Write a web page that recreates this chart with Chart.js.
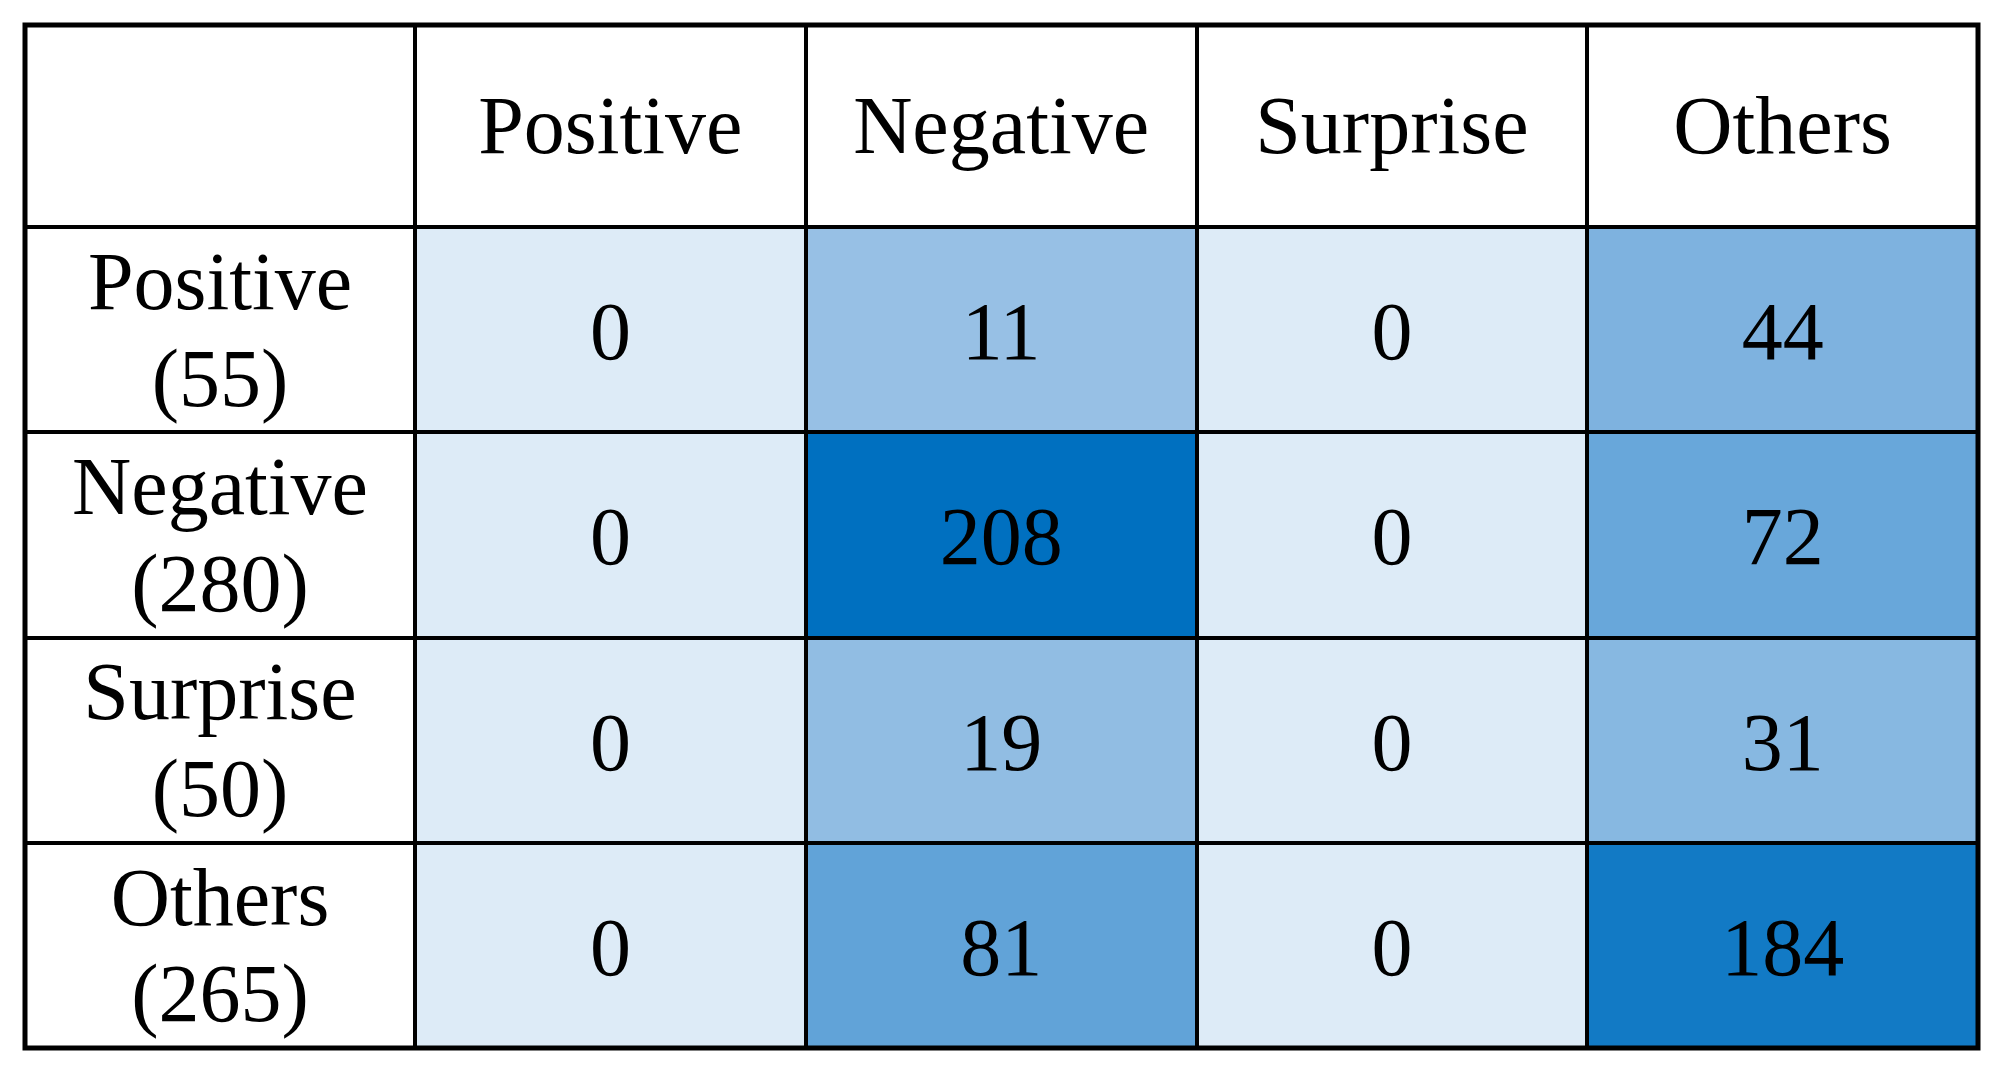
<!DOCTYPE html>
<html>
<head>
<meta charset="utf-8">
<script src="https://cdn.jsdelivr.net/npm/chart.js@4/dist/chart.umd.min.js"></script>
<style>
  html, body { margin: 0; padding: 0; background: #fff; }
  #wrap { width: 2003px; height: 1069px; }
</style>
</head>
<body>
<div id="wrap"><canvas id="cm"></canvas></div>
<script>
// confusion matrix data (rows = true class, columns = predicted)
const colLabels = ['Positive', 'Negative', 'Surprise', 'Others'];
const rowNames = ['Positive', 'Negative', 'Surprise', 'Others'];
const positiveRow = [0, 11, 0, 44];
const negativeRow = [0, 208, 0, 72];
const surpriseRow = [0, 19, 0, 31];
const othersRow = [0, 81, 0, 184];
const matrixRows = [positiveRow, negativeRow, surpriseRow, othersRow];

// row labels with totals, e.g. ['Positive', '(55)']
const rowLabels = rowNames.map((n, i) => [n, '(' + matrixRows[i].reduce((a, b) => a + b, 0) + ')']);

// 3 colour scale: min -> median -> max
const lowColor = [221, 235, 247];
const midColor = [155, 194, 230];
const highColor = [0, 112, 192];
const allVals = matrixRows.flat().slice().sort((a, b) => a - b);
const vMin = allVals[0];
const vMax = allVals[allVals.length - 1];
const vMid = (allVals[allVals.length / 2 - 1] + allVals[allVals.length / 2]) / 2;

function mix(a, b, t) {
  return 'rgb(' + a.map((c, i) => Math.round(c + (b[i] - c) * t)).join(',') + ')';
}
function cellColor(v) {
  if (v <= vMid) return mix(lowColor, midColor, (v - vMin) / (vMid - vMin));
  return mix(midColor, highColor, (v - vMid) / (vMax - vMid));
}

const FONT = 'Liberation Serif, Times New Roman, serif';
const HEADER_H = 202;
const LABEL_W = 390;
const LINE_W = 4;

// one dataset per row, each cell a floating bar [r, r+1]
const datasets = matrixRows.map((row, r) => ({
  label: rowNames[r],
  data: row.map((v, c) => ({ x: colLabels[c], y: [r, r + 1], v: v })),
  backgroundColor: ctx => cellColor(ctx.raw.v),
  borderWidth: 0,
  grouped: false,
  barPercentage: 1,
  categoryPercentage: 1
}));

// numbers in the cells
const cellText = {
  id: 'cellText',
  afterDatasetsDraw(chart) {
    const ctx = chart.ctx;
    ctx.save();
    ctx.font = '82px ' + FONT;
    ctx.fillStyle = '#000';
    ctx.textAlign = 'center';
    ctx.textBaseline = 'middle';
    chart.data.datasets.forEach((ds, i) => {
      chart.getDatasetMeta(i).data.forEach((el, j) => {
        const p = el.getProps(['x', 'y', 'base'], true);
        ctx.fillText(String(ds.data[j].v), p.x, (p.y + p.base) / 2 + 8);
      });
    });
    ctx.restore();
  }
};

// outer frame round the whole table (header + label column)
const tableFrame = {
  id: 'tableFrame',
  afterDraw(chart) {
    const xs = chart.scales.x, ys = chart.scales.rows;
    const ctx = chart.ctx;
    ctx.save();
    ctx.strokeStyle = '#000';
    ctx.lineWidth = LINE_W + 1;
    ctx.strokeRect(ys.left, xs.top, chart.chartArea.right - ys.left, chart.chartArea.bottom - xs.top);
    ctx.restore();
  }
};

new Chart(document.getElementById('cm'), {
  type: 'bar',
  data: { labels: colLabels, datasets: datasets },
  plugins: [cellText, tableFrame],
  options: {
    responsive: true,
    maintainAspectRatio: false,
    devicePixelRatio: 1,
    animation: false,
    layout: { padding: { left: 25, top: 25, right: 25, bottom: 21 } },
    plugins: { legend: { display: false }, tooltip: { enabled: false } },
    scales: {
      x: {
        type: 'category',
        position: 'top',
        offset: true,
        grid: { offset: true, z: 1, color: '#000', lineWidth: LINE_W, tickLength: HEADER_H, drawTicks: true },
        border: { display: false },
        ticks: { color: '#000', font: { family: FONT, size: 82, lineHeight: 1.18 }, padding: -155, maxRotation: 0, autoSkip: false },
        afterFit(s) { s.height = HEADER_H; }
      },
      y: {
        type: 'linear',
        display: false,
        reverse: true,
        min: 0,
        max: 4
      },
      rows: {
        type: 'category',
        position: 'left',
        labels: rowLabels,
        offset: true,
        grid: { offset: true, z: 1, color: '#000', lineWidth: LINE_W, tickLength: LABEL_W, drawTicks: true },
        border: { display: false },
        ticks: { color: '#000', crossAlign: 'center', font: { family: FONT, size: 82, lineHeight: 1.18 }, padding: -343, labelOffset: 6, autoSkip: false },
        afterFit(s) { s.width = LABEL_W; }
      }
    }
  }
});
</script>
</body>
</html>
